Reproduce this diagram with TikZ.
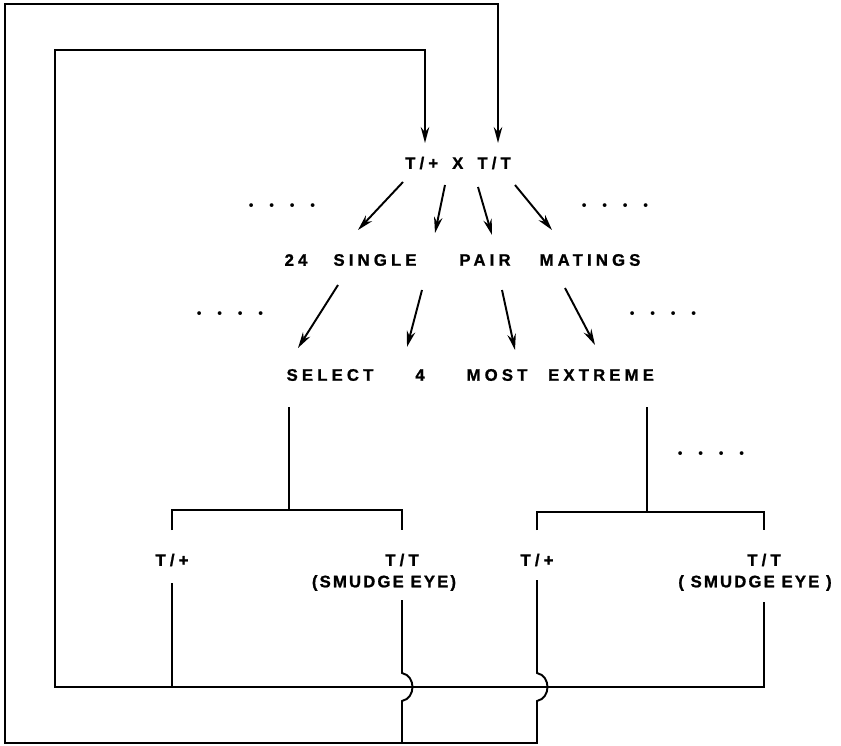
\documentclass[tikz,border=0pt]{standalone}
\usepackage{fontspec}
\newfontfamily\lblfam[LetterSpace=25,FakeBold=1.2]{Liberation Sans}
\newfontfamily\tagfam[LetterSpace=13,FakeBold=1.2]{Liberation Sans}
\usetikzlibrary{arrows.meta,calc}

\begin{document}
\begin{tikzpicture}[x=0.02cm,y=-0.02cm,line width=1.1pt,
  w/.style={font=\lblfam\bfseries\fontsize{9.5}{11}\selectfont,inner sep=0pt},
  tg/.style={font=\tagfam\bfseries\fontsize{9.5}{11}\selectfont,inner sep=0pt},
  dts/.style={font=\bfseries\fontsize{15}{15}\selectfont,inner sep=0pt,anchor=base},
  ar/.style={-{Stealth[length=3.2mm,width=1.7mm,open]}}]
\useasboundingbox (0,0) rectangle (841,746);

% cross and its offspring
\node[w] (top)  at (458,163) {T/+\hspace{3pt} X\hspace{3pt} T/T};
\node[w] (n24)  at (296,260) {24};
\node[w] (sgl)  at (375,260) {SINGLE};
\node[w] (pair) at (485,260) {PAIR};
\node[w] (mat)  at (590,260) {MATINGS};
\node[w] (sel)  at (330,375) {SELECT};
\node[w] (four) at (420,375) {4};
\node[w] (most) at (497,375) {MOST};
\node[w] (ext)  at (601,375) {EXTREME};

\node[dts] (d1) at (282,208) {.\hspace{7pt}.\hspace{7pt}.\hspace{7pt}.};
\node[dts] (d2) at (615,208) {.\hspace{7pt}.\hspace{7pt}.\hspace{7pt}.};
\node[dts] (d3) at (230,316) {.\hspace{7pt}.\hspace{7pt}.\hspace{7pt}.};
\node[dts] (d4) at (663,316) {.\hspace{7pt}.\hspace{7pt}.\hspace{7pt}.};
\node[dts] (d5) at (711,455) {.\hspace{7pt}.\hspace{7pt}.\hspace{7pt}.};

\draw[ar] ([shift={(-55,19)}]top.center) -- ([shift={(-17,-30)}]sgl.center);
\draw[ar] ([shift={(-13,22)}]top.center) -- ([shift={(-50,-27)}]pair.center);
\draw[ar] ([shift={(20,24)}]top.center)  -- ([shift={(7,-25)}]pair.center);
\draw[ar] ([shift={(57,22)}]top.center)  -- ([shift={(-38,-30)}]mat.center);

\draw[ar] ([shift={(-37,25)}]sgl.center) -- ([shift={(-32,-27)}]sel.center);
\draw[ar] ([shift={(47,30)}]sgl.center)  -- ([shift={(-13,-28)}]four.center);
\draw[ar] ([shift={(17,30)}]pair.center) -- ([shift={(18,-25)}]most.center);
\draw[ar] ([shift={(-25,28)}]mat.center) -- ([shift={(-6,-30)}]ext.center);

% selected pairs
\node[w]  (tpa) at (172,560) {T/+};
\node[w]  (tta) at (402,560) {T/T};
\node[tg] (sma) at (384,583) {(SMUDGE EYE)};
\node[w]  (tpb) at (537,560) {T/+};
\node[w]  (ttb) at (764,560) {T/T};
\node[tg] (smb) at (755,583) {( SMUDGE EYE )};

\coordinate (jl) at (289,510);
\coordinate (jr) at (647,512);
\draw ([shift={(-41,32)}]sel.center) -- (jl);
\draw ([shift={(0,-30)}]tpa.center) |- (jl) -| ([shift={(0,-30)}]tta.center);
\draw ([shift={(46,32)}]ext.center) -- (jr);
\draw ([shift={(0,-30)}]tpb.center) |- (jr) -| ([shift={(0,-30)}]ttb.center);

% back-crossing loops
\coordinate (ibl) at (55,687);
\coordinate (itl) at (55,50);
\coordinate (obl) at (5,743);
\coordinate (otl) at (5,4);
\draw[ar] ([shift={(0,42)}]ttb.center) |- (ibl) -- (itl) -| ([shift={(-33,-20)}]top.center);
\draw ([shift={(0,23)}]tpa.center) -- (tpa |- ibl);
\draw[ar] ([shift={(0,20)}]tpb.center) -- ($(tpb |- ibl)+(0,-14)$)
  .. controls +(14,3) and +(14,-3) .. ++(0,28) -- (tpb |- obl) -- (obl) -- (otl)
  -| ([shift={(40,-20)}]top.center);
\draw ([shift={(0,40)}]tta.center) -- ($(tta |- ibl)+(0,-14)$)
  .. controls +(14,3) and +(14,-3) .. ++(0,28) -- (tta |- obl);
\end{tikzpicture}
\end{document}
